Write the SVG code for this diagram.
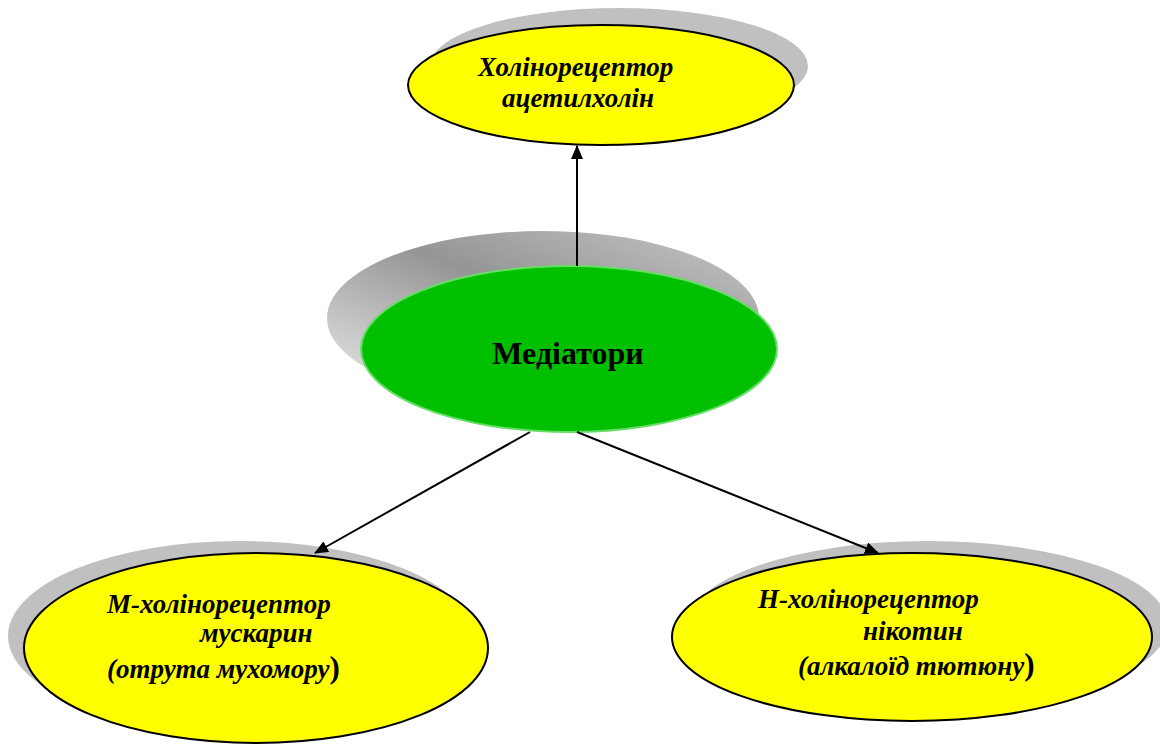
<svg xmlns="http://www.w3.org/2000/svg" width="1160" height="744" viewBox="0 0 1160 744">
<style>
.yel{fill:#ffff00;stroke:#000;stroke-width:2}
.shd{fill:#c0c0c0}
.lbl{font-family:"Liberation Serif","Times New Roman",serif;font-weight:bold;font-style:italic;font-size:27px;fill:#000}
.main{font-family:"Liberation Serif","Times New Roman",serif;font-weight:bold;font-size:32px;fill:#000}
.par{font-style:normal;font-size:31px}
.con{stroke:#000;stroke-width:2;fill:none;marker-end:url(#ah)}
</style>
<defs>
<marker id="ah" markerWidth="14" markerHeight="12" refX="13" refY="6" orient="auto" markerUnits="userSpaceOnUse" viewBox="0 0 14 12">
<path d="M0,0 L14,6 L0,12 z" fill="#000"/>
</marker>
<linearGradient id="gshd" x1="0" y1="1" x2="1" y2="0">
<stop offset="0" stop-color="#f0f0f0"/>
<stop offset="0.55" stop-color="#959595"/>
<stop offset="1" stop-color="#c8c8c8"/>
</linearGradient>
</defs>
<rect width="1160" height="744" fill="#fff"/>
<g id="node-top">
<ellipse class="shd" cx="619" cy="66" rx="189" ry="58"/>
<ellipse class="yel" cx="601" cy="85" rx="193" ry="60"/>
<text class="lbl" x="478" y="76">Холінорецептор</text>
<text class="lbl" x="502" y="107">ацетилхолін</text>
</g>
<g id="node-center">
<ellipse fill="url(#gshd)" cx="543" cy="318" rx="216" ry="87"/>
<ellipse fill="#00c000" stroke="#66dd66" stroke-width="2" cx="569" cy="349" rx="208" ry="83"/>
<text class="main" x="568" y="364" text-anchor="middle">Медіатори</text>
</g>
<g id="node-m">
<ellipse class="shd" cx="240" cy="636" rx="232" ry="95"/>
<ellipse class="yel" cx="256" cy="648" rx="232" ry="95"/>
<text class="lbl" x="107" y="613">М-холінорецептор</text>
<text class="lbl" x="200" y="642">мускарин</text>
<text class="lbl" x="107" y="678">(отрута мухомору<tspan class="par">)</tspan></text>
</g>
<g id="node-n">
<ellipse class="shd" cx="928" cy="625" rx="240" ry="84"/>
<ellipse class="yel" cx="912" cy="637" rx="240" ry="84"/>
<text class="lbl" x="758" y="608">Н-холінорецептор</text>
<text class="lbl" x="863" y="640">нікотин</text>
<text class="lbl" x="798" y="675">(алкалоїд тютюну<tspan class="par">)</tspan></text>
</g>
<g id="connectors">
<line class="con" x1="577" y1="266" x2="577" y2="146"/>
<line class="con" x1="530" y1="432" x2="315" y2="553"/>
<line class="con" x1="577" y1="432" x2="878" y2="553"/>
</g>
</svg>
